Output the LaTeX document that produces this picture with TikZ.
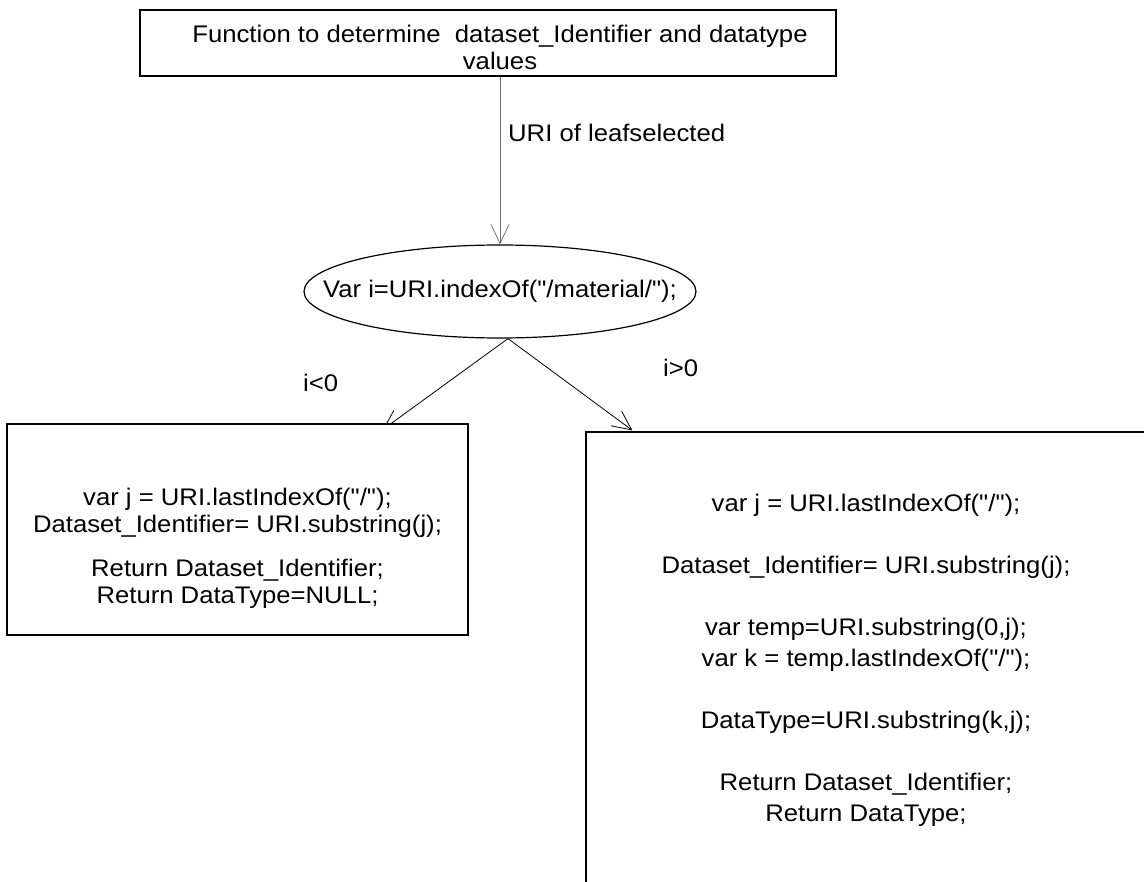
\documentclass[tikz,border=0pt]{standalone}
\usepackage{fontspec}
\setmainfont{Liberation Sans}[FakeStretch=1.07, Ligatures=TeXOff]
\usetikzlibrary{arrows.meta,shapes.geometric,backgrounds}

\begin{document}
\begin{tikzpicture}[x=1pt,y=-1pt,
  every node/.style={font=\fontsize{24}{27}\selectfont},
  box/.style={draw=black, line width=1.2pt, fill=white, rectangle, inner sep=0pt},
  decision/.style={draw=black, line width=1.2pt, fill=white, ellipse, inner sep=0pt},
  code/.style={align=center, inner sep=0pt, anchor=north},
  flow/.style={line width=0.8pt, -{Straight Barb[length=19pt,width=18pt]}},
  lbl/.style={anchor=base west, inner sep=0pt}]
\useasboundingbox (0,0) rectangle (1144,882);

% title box
\node[box, minimum width=696pt, minimum height=66pt] (top) at (488,43) {};
\node[code] (toptext) at (500,25)
  {Function to determine~~dataset\_Identifier and datatype\\values};

% test on the URI (text kept out of the shape's size computation)
\node[decision, minimum width=392pt, minimum height=93pt] (ell) at (500,291.5)
  {\makebox[0pt][c]{Var i=URI.indexOf("/material/");}};

% branch i<0
\node[box, minimum width=461pt, minimum height=211pt] (lbox) at (237.5,529.5) {};
\node[code] (ltext) at (237.5,487.5)
  {var j = URI.lastIndexOf("/");\\
   Dataset\_Identifier= URI.substring(j);\\[17pt]
   Return Dataset\_Identifier;\\
   Return DataType=NULL;};

% branch i>0
\node[box, minimum width=560pt, minimum height=460pt] (rbox) at (866,662) {};
\node[code, font=\fontsize{24}{31}\selectfont] (rtext) at (866,493.5)
  {var j = URI.lastIndexOf("/");\\[31pt]
   Dataset\_Identifier= URI.substring(j);\\[31pt]
   var temp=URI.substring(0,j);\\
   var k = temp.lastIndexOf("/");\\[31pt]
   DataType=URI.substring(k,j);\\[31pt]
   Return Dataset\_Identifier;\\
   Return DataType;};

% connector labels
\node[lbl] (luri) at (508,142) {URI of leafselected};
\node[lbl] (lneg) at (303,392) {i<0};
\node[lbl] (lpos) at (663,377) {i>0};

% connectors, kept under the filled shapes
\begin{scope}[on background layer]
  \draw[flow, draw=black!55] (ell.north |- top.south) -- (ell.north);
  \draw[flow] ([xshift=8pt]ell.south) -- ([xshift=145.5pt,yshift=-6pt]lbox.north);
  \draw[flow] ([xshift=8pt]ell.south) -- ([xshift=47pt,yshift=1pt]rbox.north west);
\end{scope}
\end{tikzpicture}
\end{document}
